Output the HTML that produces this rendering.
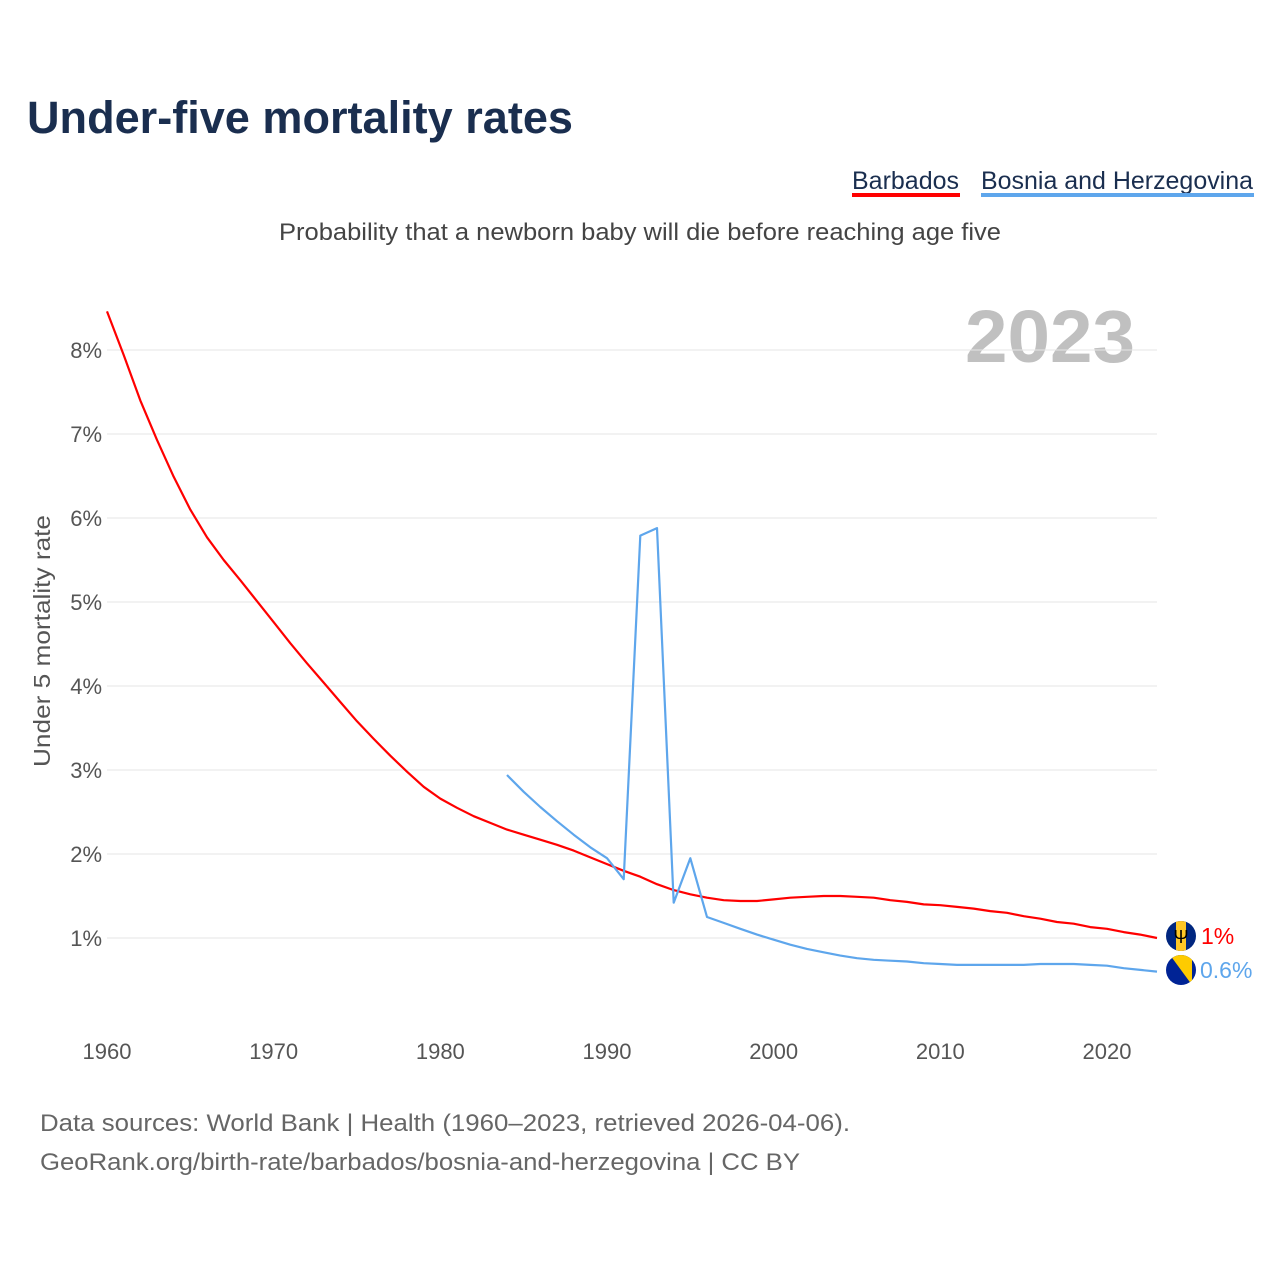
<!DOCTYPE html>
<html><head><meta charset="utf-8">
<style>
html,body{margin:0;padding:0;background:#fff;}
svg{display:block;font-family:"Liberation Sans",sans-serif;}
</style></head>
<body>
<svg id="chart" width="1280" height="1280" viewBox="0 0 1280 1280" xmlns="http://www.w3.org/2000/svg">
  <text x="27" y="133" font-size="45" font-weight="bold" fill="#1a2e4f" textLength="546" lengthAdjust="spacingAndGlyphs">Under-five mortality rates</text>
  <g>
    <g>
      <text x="852" y="189" font-size="25" fill="#1a2e4f" textLength="107" lengthAdjust="spacingAndGlyphs">Barbados</text>
      <rect x="852" y="193" width="108" height="4" fill="#ff0000"/>
    </g>
    <g>
      <text x="981" y="189" font-size="25" fill="#1a2e4f" textLength="272" lengthAdjust="spacingAndGlyphs">Bosnia and Herzegovina</text>
      <rect x="981" y="193" width="273" height="4" fill="#5ea6ec"/>
    </g>
  </g>
  <text x="279" y="240" font-size="24" fill="#444" textLength="722" lengthAdjust="spacingAndGlyphs">Probability that a newborn baby will die before reaching age five</text>
  <text x="965" y="362" font-size="74" font-weight="bold" fill="#c0c0c0" textLength="170" lengthAdjust="spacingAndGlyphs">2023</text>
  <g id="grid"></g>
  <g id="yticks"></g>
  <g id="xticks"></g>
  <text transform="translate(50,641) rotate(-90)" text-anchor="middle" font-size="23" fill="#555" textLength="252" lengthAdjust="spacingAndGlyphs">Under 5 mortality rate</text>
  <g id="series"></g>
  <g>
    <clipPath id="c1"><circle cx="1181" cy="936" r="15"/></clipPath>
    <g clip-path="url(#c1)">
      <rect x="1166" y="921" width="30" height="30" fill="#00267f"/>
      <rect x="1176" y="921" width="10" height="30" fill="#ffc726"/>
    </g>
    <text x="1181" y="943" font-size="18" text-anchor="middle" fill="#000">Ψ</text>
  </g>
  <g>
    <clipPath id="c2"><circle cx="1181" cy="970" r="15"/></clipPath>
    <g clip-path="url(#c2)">
      <rect x="1166" y="955" width="30" height="30" fill="#002395"/>
      <polygon points="1170,955 1192,955 1192,985" fill="#fecb00"/>
    </g>
  </g>
  <text x="1201" y="944" font-size="23" fill="#ff0000">1%</text>
  <text x="1200" y="978" font-size="23" fill="#5ea6ec">0.6%</text>
  <text x="40" y="1131" font-size="24" fill="#666" textLength="810" lengthAdjust="spacingAndGlyphs">Data sources: World Bank | Health (1960–2023, retrieved 2026-04-06).</text>
  <text x="40" y="1170" font-size="24" fill="#666" textLength="760" lengthAdjust="spacingAndGlyphs">GeoRank.org/birth-rate/barbados/bosnia-and-herzegovina | CC BY</text>
</svg>
<script>
const barbadosYears = [];
for (let y = 1960; y <= 2023; y++) barbadosYears.push(y);
const barbadosValues = [8.46,7.94,7.40,6.93,6.49,6.10,5.77,5.50,5.26,5.01,4.76,4.51,4.27,4.04,3.81,3.58,3.37,3.17,2.98,2.80,2.66,2.55,2.45,2.37,2.29,2.23,2.17,2.11,2.04,1.96,1.88,1.80,1.73,1.64,1.57,1.52,1.48,1.45,1.44,1.44,1.46,1.48,1.49,1.50,1.50,1.49,1.48,1.45,1.43,1.40,1.39,1.37,1.35,1.32,1.30,1.26,1.23,1.19,1.17,1.13,1.11,1.07,1.04,1.00];
const bosniaYears = [];
for (let y = 1984; y <= 2023; y++) bosniaYears.push(y);
const bosniaValues = [2.94,2.74,2.56,2.39,2.23,2.08,1.95,1.70,5.79,5.88,1.42,1.95,1.25,1.18,1.11,1.04,0.98,0.92,0.87,0.83,0.79,0.76,0.74,0.73,0.72,0.70,0.69,0.68,0.68,0.68,0.68,0.68,0.69,0.69,0.69,0.68,0.67,0.64,0.62,0.60];
const yTicks = [1,2,3,4,5,6,7,8];
const xTicks = [1960,1970,1980,1990,2000,2010,2020];

const NS = "http://www.w3.org/2000/svg";
const xScale = yr => 107 + (yr - 1960) * (1000 / 60);
const yScale = v => 1022 - v * 84;

const grid = document.getElementById('grid');
const yt = document.getElementById('yticks');
yTicks.forEach(t => {
  const l = document.createElementNS(NS, 'line');
  
  
  l.setAttribute('x1', 107); l.setAttribute('x2', 1157);
  l.setAttribute('y1', yScale(t)); l.setAttribute('y2', yScale(t));
  l.setAttribute('stroke', '#e6e6e6'); l.setAttribute('stroke-width', '1');
  grid.appendChild(l);
  const tx = document.createElementNS(NS, 'text');
  
  
  tx.setAttribute('x', 102); tx.setAttribute('y', yScale(t) + 8);
  tx.setAttribute('text-anchor', 'end'); tx.setAttribute('font-size', '22'); tx.setAttribute('fill', '#555');
  tx.textContent = t + '%';
  yt.appendChild(tx);
});
const xt = document.getElementById('xticks');
xTicks.forEach(t => {
  const tx = document.createElementNS(NS, 'text');
  
  
  tx.setAttribute('x', xScale(t)); tx.setAttribute('y', 1059);
  tx.setAttribute('text-anchor', 'middle'); tx.setAttribute('font-size', '22'); tx.setAttribute('fill', '#555');
  tx.textContent = t;
  xt.appendChild(tx);
});
const series = document.getElementById('series');
function drawLine(years, vals, color, name) {
  const p = document.createElementNS(NS, 'polyline');
  
  
  p.setAttribute('points', years.map((y, i) => xScale(y).toFixed(1) + ',' + yScale(vals[i]).toFixed(1)).join(' '));
  p.setAttribute('fill', 'none'); p.setAttribute('stroke', color); p.setAttribute('stroke-width', '2.2');
  p.setAttribute('stroke-linejoin', 'round');
  series.appendChild(p);
}
drawLine(barbadosYears, barbadosValues, '#ff0000', 'line-barbados');
drawLine(bosniaYears, bosniaValues, '#5ea6ec', 'line-bosnia');
</script>
</body></html>
